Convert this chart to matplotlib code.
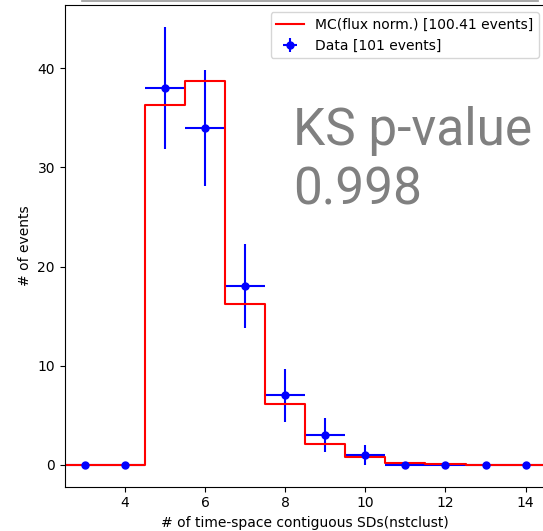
import numpy as np
import matplotlib; matplotlib.use("Agg"); import matplotlib.pyplot as plt
from matplotlib.lines import Line2D

# nstclust bins and counts
nstclust = [3, 4, 5, 6, 7, 8, 9, 10, 11, 12, 13, 14]
data_counts = [0, 0, 38, 34, 18, 7, 3, 1, 0, 0, 0, 0]
mc_counts = [0, 0, 36.3, 38.7, 16.2, 6.1, 2.05, 0.75, 0.2, 0.08, 0.02, 0.01]
mc_label = "MC(flux norm.) [100.41 events]"
data_label = "Data [101 events]"
ks_lines = ["KS p-value", "0.998"]

x = np.array(nstclust)
d = np.array(data_counts, float)
edges = np.append(x - 0.5, x[-1] + 0.5)

fig = plt.figure(figsize=(5.43, 5.31), dpi=100)
ax = fig.add_axes([64.7/543, 44.4/531, 481/543, 481.4/531])

ax.step(edges, np.append(mc_counts, mc_counts[-1]), where="post", color="red",
        lw=1.5, label=mc_label, zorder=2)
eb = ax.errorbar(x, d, xerr=0.5, yerr=np.sqrt(d), fmt="o", ms=5, color="blue",
                 lw=1.5, label=data_label, zorder=1)
eb[0].set_zorder(3)

ax.set_xlim(2.5, 14.5)
ax.set_xticks([4, 6, 8, 10, 12, 14])
ax.set_yticks([0, 10, 20, 30, 40])
ax.set_xlabel("# of time-space contiguous SDs(nstclust)")
ax.set_ylabel("# of events")
ax.legend(loc="upper right")

# KS result, two lines
for yy, s in zip([0.7096, 0.585], ks_lines):
    ax.text(0.4746, yy, s, transform=ax.transAxes, fontsize=37, color="#808080",
            family="Roboto", va="baseline", ha="left")

# edge of the panel above, cut off by the crop
fig.add_artist(Line2D([82/543, 538/543], [1 - 0.7/531, 1 - 0.7/531],
                      transform=fig.transFigure, color="#999999", lw=1.2))

plt.savefig("out.png", dpi=100)
